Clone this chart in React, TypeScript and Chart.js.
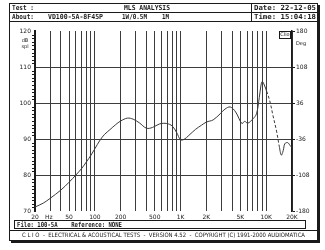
import React, { useEffect, useRef } from "react";
import { Chart, registerables } from "chart.js";

Chart.register(...registerables);

// Frequency response (SPL)
const FREQ_HZ = [
  20, 25, 30, 40, 50, 60, 70, 80, 90, 100, 115, 130, 150, 175, 200, 240, 280, 330, 400, 470,
  570, 690, 800, 900, 1000, 1100, 1250, 1500, 1750, 2000, 2400, 2900, 3300, 3800, 4400, 5200,
  5600, 6100, 7000, 7700, 8300, 8700, 9000, 9500, 10100, 11000, 12000, 13200, 14200, 15000,
  15800, 16500, 17800, 19000, 20000,
];
const SPL_DB = [
  71.1, 72.2, 73.5, 75.8, 78.0, 80.0, 81.8, 83.7, 85.5, 87.3, 89.7, 91.3, 92.6, 94.0, 95.0,
  95.8, 95.5, 94.5, 93.0, 93.2, 94.2, 94.3, 93.6, 91.8, 89.8, 89.9, 91.0, 92.7, 93.8, 94.7,
  95.3, 97.0, 98.3, 98.9, 97.5, 94.3, 94.9, 94.4, 95.6, 97.0, 101.5, 105.0, 106.0, 105.0,
  103.3, 100.6, 96.5, 92.2, 88.0, 85.5, 86.8, 88.7, 89.0, 88.2, 87.6,
];
// Frequency span drawn dashed in the reference (steep fall after the peak)
const DASHED_FROM_HZ = 10100;
const DASHED_TO_HZ = 14200;

// Axes
const X_GRID_HZ = [
  20, 30, 40, 50, 60, 70, 80, 90, 100, 200, 300, 400, 500, 600, 700, 800, 900, 1000, 2000,
  3000, 4000, 5000, 6000, 7000, 8000, 9000, 10000, 20000,
];
const X_LABEL_HZ = [20, 50, 100, 200, 500, 1000, 2000, 5000, 10000, 20000];
const X_LABEL_TEXT = ["20", "50", "100", "200", "500", "1K", "2K", "5K", "10K", "20K"];
const SPL_TICKS = [70, 80, 90, 100, 110, 120];
const PHASE_TICKS = [-180, -108, -36, 36, 108, 180];

// Header / footer texts
const TEST_TEXT = "Test :";
const TITLE_TEXT = "MLS ANALYSIS";
const DATE_TEXT = "Date: 22-12-05";
const ABOUT_TEXT = "About:";
const MODEL_TEXT = "VD100-5A-8F45P";
const DRIVE_TEXT = "1W/0.5M";
const DIST_TEXT = "1M";
const TIME_TEXT = "Time: 15:04:18";
const FILE_TEXT = "File: 100-5A    Reference: NONE";
const CLIO_TEXT =
  "C L I O  -  ELECTRICAL & ACOUSTICAL TESTS  -  VERSION 4.52  -  COPYRIGHT (C) 1991-2000 AUDIOMATICA";

const INK = "#1a1a1a";
const GRID = "#3c3c3c";
const MONO = "'DejaVu Sans Mono', monospace";
const SANS = "'DejaVu Sans', sans-serif";

function fitText(ctx: CanvasRenderingContext2D, text: string, x: number, y: number, w: number) {
  const m = ctx.measureText(text).width;
  ctx.save();
  ctx.translate(x, y);
  if (m > 0) ctx.scale(w / m, 1);
  ctx.textAlign = "left";
  ctx.textBaseline = "middle";
  ctx.fillText(text, 0, 0);
  ctx.restore();
}

const framePlugin = {
  id: "clioFrame",
  beforeDraw(chart: any) {
    const ctx = chart.ctx as CanvasRenderingContext2D;
    ctx.save();
    ctx.fillStyle = "#ffffff";
    ctx.fillRect(0, 0, chart.width, chart.height);
    ctx.restore();
  },
  afterDraw(chart: any) {
    const ctx = chart.ctx as CanvasRenderingContext2D;
    const xs = chart.scales.x;
    const ys = chart.scales.y;
    const area = chart.chartArea;
    ctx.save();
    ctx.strokeStyle = INK;
    ctx.fillStyle = INK;
    ctx.lineWidth = 1;

    // outer frame with shadow
    ctx.strokeRect(9.5, 3.5, 308, 237);
    ctx.fillRect(318, 5, 2, 238);
    ctx.fillRect(11, 241, 309, 2);

    // header
    ctx.beginPath();
    ctx.moveTo(9, 12.5);
    ctx.lineTo(318, 12.5);
    ctx.moveTo(9, 21.5);
    ctx.lineTo(318, 21.5);
    ctx.moveTo(251.5, 3);
    ctx.lineTo(251.5, 21);
    ctx.stroke();

    ctx.font = `bold 7px ${MONO}`;
    fitText(ctx, TEST_TEXT, 12, 8.3, 22);
    fitText(ctx, TITLE_TEXT, 124, 8.3, 46);
    fitText(ctx, DATE_TEXT, 254, 8.3, 62);
    fitText(ctx, ABOUT_TEXT, 12, 17.3, 22);
    fitText(ctx, MODEL_TEXT, 48, 17.3, 55);
    fitText(ctx, DRIVE_TEXT, 122, 17.3, 25);
    fitText(ctx, DIST_TEXT, 162, 17.3, 7);
    fitText(ctx, TIME_TEXT, 254, 17.3, 62);

    // footer
    ctx.strokeRect(14.5, 220.5, 291, 8);
    ctx.beginPath();
    ctx.moveTo(9, 230.5);
    ctx.lineTo(318, 230.5);
    ctx.stroke();
    ctx.font = `bold 7px ${MONO}`;
    fitText(ctx, FILE_TEXT, 17, 224.8, 105);
    ctx.font = `6px ${SANS}`;
    fitText(ctx, CLIO_TEXT, 22, 235.5, 283);

    // axis captions
    ctx.font = `5px ${SANS}`;
    ctx.textAlign = "center";
    ctx.textBaseline = "middle";
    ctx.fillText("dB", 25, 41);
    ctx.fillText("spl", 25, 47);
    ctx.fillText("Deg", 301, 44);
    ctx.font = `6px ${SANS}`;
    ctx.textAlign = "left";
    ctx.textBaseline = "top";
    ctx.fillText("Hz", xs.getPixelForValue(20) + 10, area.bottom + 3);

    // minor ticks on SPL axis
    ctx.lineWidth = 1;
    ctx.beginPath();
    for (let v = 71; v < 120; v++) {
      if (v % 10 === 0) continue;
      const py = Math.round(ys.getPixelForValue(v)) + 0.5;
      ctx.moveTo(area.left - 3, py);
      ctx.lineTo(area.left - 1, py);
    }
    ctx.stroke();

    // CLIO badge
    ctx.strokeRect(area.right - 12.5, area.top + 0.5, 11, 7);
    ctx.font = `5px ${SANS}`;
    ctx.textAlign = "center";
    ctx.textBaseline = "middle";
    ctx.fillText("Clio", area.right - 7, area.top + 4);
    ctx.restore();
  },
};

export default function App() {
  const ref = useRef<HTMLCanvasElement | null>(null);

  useEffect(() => {
    document.body.style.margin = "0";
    const canvas = ref.current;
    if (!canvas) return;
    const chart = new Chart(canvas, {
      type: "scatter",
      data: {
        datasets: [
          {
            data: FREQ_HZ.map((f, i) => ({ x: f, y: SPL_DB[i] })),
            showLine: true,
            borderColor: "#3a3a3a",
            borderWidth: 1,
            pointRadius: 0,
            tension: 0.35,
            yAxisID: "y",
            segment: {
              borderDash: (c: any) =>
                c.p0.parsed.x >= DASHED_FROM_HZ && c.p1.parsed.x <= DASHED_TO_HZ ? [3, 2] : undefined,
            },
          },
        ],
      },
      options: {
        animation: false,
        responsive: false,
        maintainAspectRatio: false,
        devicePixelRatio: 1,
        layout: { padding: { top: 31, left: 0, right: 0, bottom: 0 } },
        plugins: { legend: { display: false }, tooltip: { enabled: false } },
        scales: {
          x: {
            type: "logarithmic",
            min: 20,
            max: 20000,
            afterBuildTicks: (s: any) => {
              s.ticks = X_GRID_HZ.map((v) => ({ value: v }));
            },
            afterFit: (s: any) => {
              s.height = 39;
            },
            grid: { color: GRID, lineWidth: 1, drawTicks: false },
            border: { display: false },
            ticks: {
              autoSkip: false,
              maxRotation: 0,
              padding: 3,
              color: INK,
              font: { size: 6, family: SANS },
              callback: (v: any) => {
                const i = X_LABEL_HZ.indexOf(Number(v));
                return i >= 0 ? X_LABEL_TEXT[i] : "";
              },
            },
          },
          y: {
            type: "linear",
            position: "left",
            min: 70,
            max: 120,
            afterBuildTicks: (s: any) => {
              s.ticks = SPL_TICKS.map((v) => ({ value: v }));
            },
            afterFit: (s: any) => {
              s.width = 35;
            },
            grid: {
              drawTicks: false,
              lineWidth: 1,
              color: (c: any) =>
                c.tick && (c.tick.value === 70 || c.tick.value === 120) ? "rgba(0,0,0,0)" : GRID,
            },
            border: { display: true, width: 2, color: INK },
            ticks: { padding: 4, color: INK, font: { size: 6, family: SANS } },
          },
          y2: {
            type: "linear",
            position: "right",
            min: -180,
            max: 180,
            afterBuildTicks: (s: any) => {
              s.ticks = PHASE_TICKS.map((v) => ({ value: v }));
            },
            afterFit: (s: any) => {
              s.width = 33;
            },
            grid: { drawOnChartArea: false, drawTicks: true, tickLength: 3, color: INK },
            border: { display: true, width: 1.5, color: INK },
            ticks: { padding: 1, color: INK, font: { size: 6, family: SANS } },
          },
        },
      },
      plugins: [framePlugin],
    } as any);
    return () => chart.destroy();
  }, []);

  return (
    <div style={{ position: "absolute", left: 0, top: 0, width: 325, height: 250, background: "#fff" }}>
      <canvas ref={ref} width={325} height={250} style={{ width: 325, height: 250, display: "block" }} />
    </div>
  );
}
